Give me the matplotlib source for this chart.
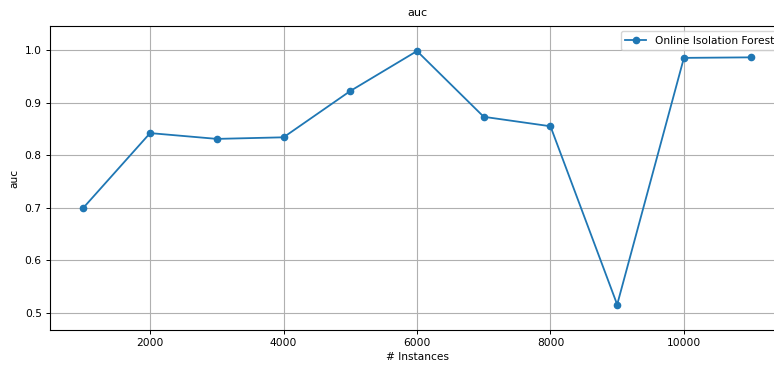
import matplotlib
matplotlib.use("Agg")
import matplotlib.pyplot as plt

# values
instances = [1000, 2000, 3000, 4000, 5000, 6000, 7000, 8000, 9000, 10000, 11000]
auc = [0.700, 0.842, 0.831, 0.834, 0.922, 0.998, 0.873, 0.855, 0.516, 0.985, 0.986]

plt.rcParams["font.size"] = 7.7
plt.rcParams["axes.titlesize"] = 8
plt.rcParams["axes.labelsize"] = 7.7

fig = plt.figure(figsize=(7.74, 3.65), dpi=100)
# axes spill past the right edge, as in the cropped original
ax = fig.add_axes([50 / 774, 35 / 365, 734 / 774, 304 / 365])
ax.plot(instances, auc, marker="o", markersize=4.5, linewidth=1.3,
        label="Online Isolation Forest")
ax.set_ylim(0.4677, 1.0456)
ax.set_xlim(500, 11500)
ax.set_title("auc", pad=7)
ax.set_xlabel("# Instances", labelpad=3)
ax.set_ylabel("auc")
ax.tick_params(length=3, width=0.7, pad=3)
ax.grid(True, linewidth=0.8)
for s in ax.spines.values():
    s.set_linewidth(0.8)
ax.legend(loc="upper right")

fig.savefig("out.png", dpi=100)
